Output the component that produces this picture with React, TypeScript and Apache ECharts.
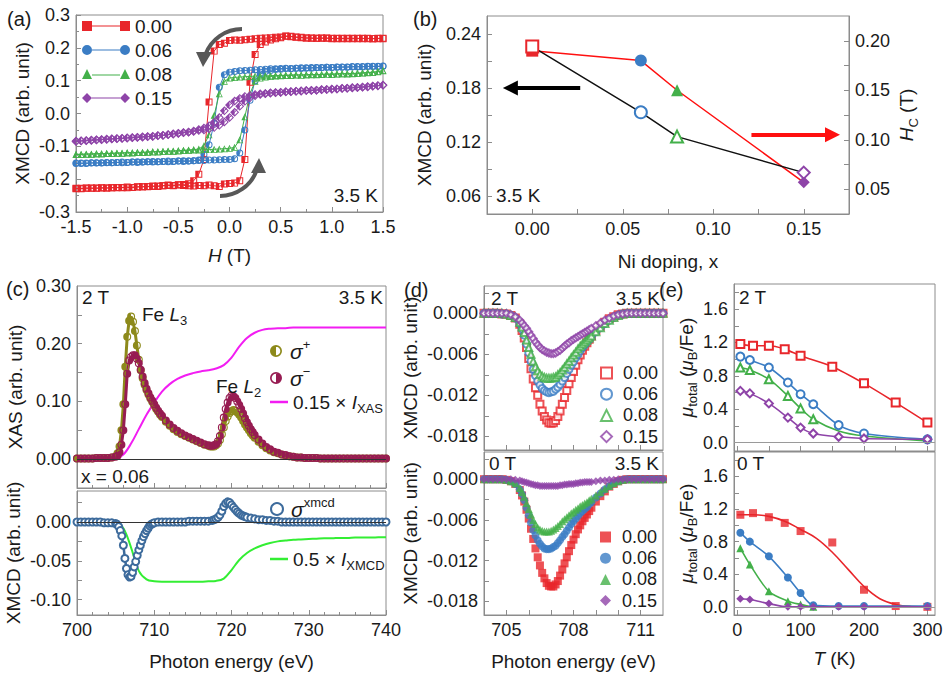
import React, { useEffect, useRef } from 'react';
import * as echarts from 'echarts';

// ---------- panel (a): hysteresis loops, XMCD vs H ----------
const H_FIELD = [-1.5,-1.45,-1.4,-1.35,-1.3,-1.25,-1.2,-1.15,-1.1,-1.05,-1,-0.95,-0.9,-0.85,-0.8,-0.75,-0.7,-0.65,-0.6,-0.55,-0.5,-0.45,-0.4,-0.35,-0.3,-0.25,-0.2,-0.15,-0.1,-0.05,0,0.05,0.1,0.15,0.2,0.25,0.3,0.35,0.4,0.45,0.5,0.55,0.6,0.65,0.7,0.75,0.8,0.85,0.9,0.95,1,1.05,1.1,1.15,1.2,1.25,1.3,1.35,1.4,1.45,1.5];
const A_RED_DOWN = [-0.228,-0.229,-0.227,-0.228,-0.227,-0.226,-0.227,-0.226,-0.226,-0.225,
  -0.226,-0.225,-0.224,-0.222,-0.223,-0.222,-0.221,-0.22,-0.218,-0.219,
  -0.217,-0.216,-0.214,-0.205,-0.185,-0.14,0.035,0.19,0.21,0.214,
  0.222,0.224,0.223,0.225,0.226,0.228,0.229,0.23,0.231,0.232,
  0.233,0.235,0.234,0.232,0.231,0.23,0.229,0.229,0.23,0.229,
  0.228,0.229,0.228,0.229,0.228,0.228,0.229,0.228,0.228,0.229,0.228];
const A_RED_UP = [-0.229,-0.228,-0.228,-0.227,-0.228,-0.227,-0.227,-0.226,-0.225,-0.226,
  -0.224,-0.225,-0.223,-0.224,-0.222,-0.221,-0.222,-0.22,-0.219,-0.22,
  -0.218,-0.219,-0.22,-0.221,-0.219,-0.22,-0.218,-0.22,-0.222,-0.215,
  -0.213,-0.212,-0.205,-0.14,0.095,0.18,0.21,0.218,0.224,0.228,
  0.231,0.236,0.235,0.233,0.232,0.23,0.23,0.229,0.229,0.23,
  0.229,0.228,0.229,0.228,0.229,0.229,0.228,0.229,0.228,0.228,0.229];
const A_BLUE_DOWN = [-0.152,-0.151,-0.152,-0.151,-0.15,-0.151,-0.15,-0.15,-0.149,-0.15,
  -0.149,-0.148,-0.149,-0.148,-0.147,-0.148,-0.147,-0.146,-0.147,-0.146,
  -0.145,-0.146,-0.145,-0.144,-0.142,-0.125,-0.095,-0.03,0.08,0.118,
  0.126,0.128,0.13,0.131,0.132,0.133,0.134,0.135,0.136,0.136,
  0.137,0.138,0.137,0.138,0.139,0.138,0.14,0.139,0.14,0.141,
  0.14,0.141,0.142,0.141,0.142,0.143,0.142,0.143,0.144,0.143,0.144];
const A_BLUE_UP = [-0.151,-0.152,-0.151,-0.15,-0.151,-0.15,-0.149,-0.15,-0.149,-0.148,
  -0.149,-0.148,-0.147,-0.148,-0.147,-0.146,-0.147,-0.146,-0.145,-0.146,
  -0.145,-0.144,-0.145,-0.144,-0.143,-0.143,-0.142,-0.142,-0.141,-0.14,
  -0.14,-0.138,-0.12,-0.05,0.04,0.1,0.12,0.128,0.131,0.134,
  0.135,0.137,0.136,0.138,0.137,0.139,0.138,0.14,0.139,0.141,
  0.14,0.142,0.141,0.142,0.143,0.142,0.143,0.144,0.143,0.144,0.145];
const A_GREEN_DOWN = [-0.125,-0.124,-0.124,-0.123,-0.122,-0.123,-0.121,-0.122,-0.12,-0.121,
  -0.119,-0.12,-0.118,-0.119,-0.117,-0.116,-0.117,-0.115,-0.114,-0.115,
  -0.113,-0.112,-0.111,-0.11,-0.108,-0.098,-0.065,-0.005,0.06,0.098,
  0.108,0.11,0.111,0.112,0.113,0.114,0.114,0.115,0.115,0.116,
  0.116,0.117,0.117,0.118,0.117,0.118,0.119,0.118,0.119,0.12,
  0.119,0.12,0.121,0.12,0.121,0.122,0.123,0.124,0.125,0.127,0.13];
const A_GREEN_UP = [-0.124,-0.125,-0.123,-0.124,-0.123,-0.122,-0.122,-0.121,-0.121,-0.12,
  -0.12,-0.119,-0.119,-0.118,-0.118,-0.117,-0.116,-0.116,-0.115,-0.114,
  -0.114,-0.113,-0.112,-0.111,-0.111,-0.11,-0.11,-0.109,-0.108,-0.107,
  -0.106,-0.103,-0.08,-0.01,0.06,0.098,0.108,0.111,0.113,0.114,
  0.115,0.116,0.116,0.117,0.117,0.118,0.118,0.119,0.119,0.12,
  0.12,0.121,0.121,0.122,0.122,0.123,0.124,0.125,0.126,0.128,0.131];
const A_PURPLE_DOWN = [-0.085,-0.083,-0.083,-0.081,-0.081,-0.079,-0.079,-0.077,-0.077,-0.075,
  -0.075,-0.073,-0.073,-0.071,-0.071,-0.069,-0.068,-0.066,-0.065,-0.062,
  -0.061,-0.058,-0.056,-0.053,-0.049,-0.044,-0.037,-0.027,-0.012,0.008,
  0.026,0.038,0.046,0.052,0.055,0.058,0.06,0.061,0.063,0.064,
  0.065,0.066,0.067,0.068,0.069,0.07,0.07,0.071,0.072,0.073,
  0.074,0.075,0.076,0.077,0.078,0.079,0.08,0.081,0.083,0.084,0.086];
const A_PURPLE_UP = [-0.084,-0.084,-0.082,-0.082,-0.08,-0.08,-0.078,-0.078,-0.076,-0.076,
  -0.074,-0.074,-0.072,-0.072,-0.07,-0.07,-0.067,-0.067,-0.064,-0.063,
  -0.06,-0.059,-0.057,-0.055,-0.052,-0.05,-0.047,-0.043,-0.036,-0.026,
  -0.012,0.004,0.022,0.037,0.048,0.054,0.058,0.06,0.062,0.063,
  0.064,0.066,0.066,0.068,0.068,0.07,0.071,0.071,0.073,0.073,
  0.075,0.075,0.077,0.077,0.079,0.079,0.081,0.082,0.084,0.085,0.087];

// ---------- panel (b): saturation XMCD and coercive field vs Ni doping ----------
const NI_DOPING = [0, 0.06, 0.08, 0.15];
const XMCD_SAT = [0.226, 0.153, 0.126, 0.086];
const H_COERCIVE = [0.19, 0.18, 0.15, 0.057];

// ---------- panel (c): XAS and XMCD spectra, x = 0.06 ----------
const E_XAS = [700,700.5,701,701.5,702,702.5,703,703.5,704,704.5,
  705,705.25,705.5,705.75,706,706.25,706.5,706.75,707,707.25,707.5,707.75,708,708.25,708.5,708.75,709,709.25,709.5,709.75,710,710.25,710.5,710.75,711,
  711.5,712,712.5,713,713.5,714,714.5,715,715.5,716,716.5,717,
  717.25,717.5,717.75,718,718.25,718.5,718.75,719,719.25,719.5,719.75,720,720.25,720.5,720.75,721,721.25,721.5,721.75,722,722.25,722.5,722.75,723,
  723.5,724,724.5,725,725.5,726,726.5,727,727.5,728,728.5,729,729.5,
  730,730.5,731,731.5,732,732.5,733,733.5,734,734.5,735,735.5,736,736.5,737,737.5,738,738.5,739,739.5,740];
const XAS_PLUS = [0.001,0.001,0.001,0.001,0.001,0.002,0.002,0.002,0.002,0.003,
  0.005,0.01,0.022,0.05,0.095,0.16,0.212,0.24,0.247,0.238,0.222,0.197,0.172,0.154,0.14,0.129,0.12,0.112,0.105,0.099,0.093,0.087,0.082,0.077,0.073,
  0.065,0.058,0.052,0.047,0.043,0.04,0.037,0.034,0.031,0.028,0.025,0.023,
  0.022,0.022,0.022,0.024,0.027,0.033,0.043,0.055,0.066,0.074,0.08,0.083,0.085,0.084,0.081,0.077,0.072,0.066,0.06,0.055,0.05,0.045,0.041,0.037,
  0.03,0.024,0.019,0.015,0.012,0.01,0.008,0.006,0.005,0.004,0.003,0.003,0.002,
  0.002,0.002,0.002,0.001,0.001,0.001,0.001,0.001,0.001,0.001,0.001,0.001,0.001,0.001,0.001,0.001,0.001,0.001,0.001,0.001,0.001];
const XAS_MINUS = [0.001,0.001,0.001,0.001,0.001,0.002,0.002,0.002,0.002,0.003,
  0.004,0.006,0.012,0.025,0.05,0.095,0.148,0.171,0.177,0.18,0.18,0.174,0.166,0.155,0.143,0.132,0.122,0.114,0.107,0.101,0.095,0.089,0.084,0.079,0.075,
  0.067,0.06,0.054,0.049,0.045,0.041,0.038,0.035,0.032,0.029,0.026,0.024,
  0.023,0.023,0.024,0.026,0.031,0.04,0.055,0.072,0.087,0.098,0.106,0.11,0.109,0.106,0.1,0.094,0.087,0.079,0.071,0.064,0.058,0.052,0.047,0.042,
  0.034,0.027,0.021,0.017,0.013,0.011,0.008,0.007,0.005,0.004,0.003,0.003,0.002,
  0.002,0.002,0.002,0.001,0.001,0.001,0.001,0.001,0.001,0.001,0.001,0.001,0.001,0.001,0.001,0.001,0.001,0.001,0.001,0.001,0.001];
const E_INT = [700,701,702,703,704,705,706,707,708,709,710,711,712,713,714,715,716,717,718,719,720,721,722,723,724,725,726,727,728,729,730,731,732,733,734,735,736,737,738,739,740];
const I_XAS = [0,0,0,0,0,0.001,0.008,0.027,0.052,0.077,
  0.098,0.117,0.13,0.139,0.145,0.149,0.152,0.154,0.157,0.163,
  0.176,0.195,0.21,0.219,0.224,0.226,0.227,0.227,0.228,0.228,
  0.228,0.228,0.228,0.228,0.228,0.228,0.228,0.228,0.228,0.228,0.228];
const I_XMCD = [0,0,0,0,0,-0.001,-0.008,-0.033,-0.063,-0.074,
  -0.0765,-0.077,-0.077,-0.077,-0.077,-0.077,-0.077,-0.0765,-0.076,-0.073,
  -0.062,-0.049,-0.04,-0.034,-0.03,-0.027,-0.025,-0.024,-0.023,-0.0225,
  -0.022,-0.0215,-0.021,-0.021,-0.0205,-0.0205,-0.02,-0.02,-0.02,-0.0198,-0.0197];
const E_XMCD = [700,700.5,701,701.5,702,702.5,703,703.5,704,704.5,
  705,705.2,705.4,705.6,705.8,706,706.2,706.4,706.6,706.8,
  707,707.2,707.4,707.6,707.8,708,708.2,708.4,708.6,708.8,
  709,709.2,709.4,709.6,709.8,710,710.5,711,711.5,712,
  712.5,713,713.5,714,714.5,715,715.5,716,716.5,717,
  717.5,717.75,718,718.25,718.5,718.75,719,719.25,719.5,719.75,
  720,720.25,720.5,720.75,721,721.25,721.5,721.75,722,722.5,
  723,723.5,724,724.5,725,725.5,726,726.5,727,727.5,
  728,728.5,729,729.5,730,730.5,731,731.5,732,732.5,
  733,733.5,734,734.5,735,735.5,736,736.5,737,737.5,
  738,738.5,739,739.5,740];
const XMCD_SIGNAL = [0,0,0,0,0,0,0,-0.001,-0.001,-0.001,
  -0.002,-0.003,-0.006,-0.011,-0.018,-0.03,-0.047,-0.06,-0.068,-0.071,
  -0.07,-0.065,-0.058,-0.051,-0.043,-0.036,-0.03,-0.024,-0.019,-0.015,
  -0.011,-0.008,-0.005,-0.003,-0.002,-0.001,0,0,0,0,
  0,0,0,0,0.001,0.001,0.001,0.001,0.001,0.001,
  0.002,0.003,0.004,0.006,0.009,0.014,0.02,0.024,0.026,0.025,
  0.022,0.019,0.016,0.013,0.011,0.009,0.008,0.007,0.006,0.005,
  0.004,0.003,0.003,0.002,0.002,0.001,0.001,0,0,0,
  0,0,0,0,0,0,0,0,0,0,
  0,0,0,0,0,0,0,0,0,0,
  0,0,0,0,0];

// ---------- panel (d): Fe L3 XMCD for each doping at 2 T and 0 T ----------
const E_L3 = [704,704.2,704.4,704.6,704.8,705,705.2,705.4,
  705.6,705.7,705.8,705.9,706,706.1,706.2,706.3,706.4,706.5,706.6,706.7,706.8,706.9,707,707.1,707.2,707.3,707.4,707.5,707.6,707.7,707.8,707.9,708,708.1,708.2,708.3,708.4,708.5,708.6,708.7,708.8,
  709,709.2,709.4,709.6,709.8,710,710.2,710.4,710.6,710.8,711,711.2,711.4,711.6,711.8,712];
const D2T_000 = [0,0,0,0,-0.0001,-0.0001,-0.0003,-0.0007,
  -0.0016,-0.0025,-0.0036,-0.005,-0.0066,-0.0081,-0.0096,-0.0109,-0.012,-0.0133,-0.0143,-0.0151,-0.0156,-0.016,-0.0161,-0.016,-0.0157,-0.0151,-0.0143,-0.0133,-0.0123,-0.0113,-0.0103,-0.0094,-0.0085,-0.0076,-0.0068,-0.0061,-0.0054,-0.0048,-0.0043,-0.0038,-0.0033,
  -0.0025,-0.0019,-0.0013,-0.0008,-0.0005,-0.0002,-0.0001,0,0,0,0,0,0,0,0,0];
const D2T_006 = [0,0,0,0,-0.0001,-0.0001,-0.0003,-0.0007,
  -0.0015,-0.0023,-0.0032,-0.0045,-0.0058,-0.007,-0.0082,-0.0091,-0.0099,-0.0105,-0.011,-0.0113,-0.0115,-0.0116,-0.0115,-0.0114,-0.0111,-0.0108,-0.0104,-0.0099,-0.0094,-0.0088,-0.0082,-0.0076,-0.0071,-0.0065,-0.006,-0.0055,-0.005,-0.0046,-0.0042,-0.0038,-0.0034,
  -0.0027,-0.0021,-0.0015,-0.001,-0.0006,-0.0003,-0.0001,0,0,0,0,0,0,0,0,0];
const D2T_008 = [0,0,0,0,0,-0.0001,-0.0003,-0.0006,
  -0.0013,-0.002,-0.0028,-0.0039,-0.005,-0.006,-0.007,-0.0078,-0.0084,-0.0089,-0.0092,-0.0094,-0.0095,-0.0095,-0.0095,-0.0094,-0.0093,-0.009,-0.0087,-0.0083,-0.0079,-0.0074,-0.007,-0.0065,-0.0061,-0.0057,-0.0052,-0.0048,-0.0045,-0.0042,-0.0039,-0.0036,-0.0033,
  -0.0027,-0.0021,-0.0015,-0.001,-0.0006,-0.0003,-0.0001,0,0,0,0,0,0,0,0,0];
const D2T_015 = [0,0,0,0,0,0,-0.0002,-0.0005,
  -0.001,-0.0014,-0.0018,-0.0022,-0.0027,-0.0032,-0.0037,-0.0042,-0.0046,-0.005,-0.0053,-0.0055,-0.0057,-0.0058,-0.0059,-0.0059,-0.0058,-0.0056,-0.0054,-0.0051,-0.0048,-0.0045,-0.0043,-0.004,-0.0038,-0.0036,-0.0034,-0.0032,-0.003,-0.0028,-0.0026,-0.0024,-0.0022,
  -0.0018,-0.0014,-0.001,-0.0007,-0.0004,-0.0002,-0.0001,0,0,0,0,0,0,0,0,0];
const D0T_000 = [0,0,0,0,0,-0.0001,-0.0003,-0.0007,
  -0.0016,-0.0024,-0.0033,-0.0045,-0.0058,-0.0073,-0.0088,-0.0102,-0.0115,-0.0127,-0.0138,-0.0146,-0.0153,-0.0157,-0.0158,-0.0158,-0.0155,-0.015,-0.0142,-0.0133,-0.0124,-0.0115,-0.0106,-0.0097,-0.0089,-0.0081,-0.0074,-0.0068,-0.0062,-0.0057,-0.0052,-0.0047,-0.0042,
  -0.0033,-0.0025,-0.0018,-0.0011,-0.0007,-0.0003,-0.0001,0,0,0,0,0,0,0,0,0];
const D0T_006 = [0,0,0,0,0,-0.0001,-0.0003,-0.0007,
  -0.0015,-0.0022,-0.0031,-0.0042,-0.0053,-0.0064,-0.0075,-0.0083,-0.009,-0.0095,-0.0099,-0.0102,-0.0103,-0.0103,-0.0102,-0.01,-0.0098,-0.0094,-0.009,-0.0085,-0.0081,-0.0076,-0.0071,-0.0066,-0.0062,-0.0058,-0.0054,-0.005,-0.0047,-0.0044,-0.0041,-0.0037,-0.0034,
  -0.0027,-0.0021,-0.0015,-0.001,-0.0006,-0.0003,-0.0001,0,0,0,0,0,0,0,0,0];
const D0T_008 = [0,0,0,0,0,-0.0001,-0.0003,-0.0006,
  -0.0013,-0.0019,-0.0026,-0.0035,-0.0044,-0.0052,-0.006,-0.0066,-0.0071,-0.0074,-0.0076,-0.0077,-0.0077,-0.0077,-0.0076,-0.0074,-0.0072,-0.0069,-0.0066,-0.0062,-0.0059,-0.0056,-0.0053,-0.005,-0.0048,-0.0045,-0.0043,-0.004,-0.0038,-0.0036,-0.0034,-0.0031,-0.0029,
  -0.0024,-0.0019,-0.0014,-0.001,-0.0006,-0.0003,-0.0001,0,0,0,0,0,0,0,0,0];
const D0T_015 = [0,0,0,0,0,0,0,-0.0001,
  -0.0002,-0.0003,-0.0004,-0.0005,-0.0006,-0.0007,-0.0008,-0.0009,-0.0009,-0.001,-0.001,-0.001,-0.001,-0.001,-0.001,-0.001,-0.001,-0.001,-0.0009,-0.0009,-0.0008,-0.0008,-0.0007,-0.0007,-0.0007,-0.0006,-0.0006,-0.0005,-0.0005,-0.0004,-0.0004,-0.0004,-0.0004,
  -0.0003,-0.0002,-0.0002,-0.0001,-0.0001,0,0,0,0,0,0,0,0,0,0,0];

// ---------- panel (e): total moment vs temperature ----------
const T_RED = [5, 25, 50, 75, 100, 150, 200, 250, 300];
const T_REST = [5, 20, 50, 80, 100, 120, 160, 200, 300];
const MU2T_000 = [1.18, 1.16, 1.16, 1.12, 1.04, 0.91, 0.71, 0.48, 0.24];
const MU2T_006 = [1.03, 0.99, 0.9, 0.72, 0.58, 0.46, 0.21, 0.11, 0.04];
const MU2T_008 = [0.9, 0.87, 0.76, 0.56, 0.41, 0.28, 0.14, 0.08, 0.02];
const MU2T_015 = [0.62, 0.59, 0.47, 0.3, 0.18, 0.11, 0.07, 0.05, 0.04];
const MU0T_000 = [1.13, 1.15, 1.1, 1.03, 0.93, 0.79, 0.21, 0.01, 0.0];
const T_FIT = [0, 25, 50, 75, 100, 125, 150, 175, 200, 225, 250, 275, 300];
const MU0T_000_FIT = [1.13, 1.13, 1.11, 1.05, 0.95, 0.84, 0.67, 0.46, 0.25, 0.1, 0.03, 0.005, 0.0];
const MU0T_006 = [0.91, 0.8, 0.62, 0.36, 0.17, 0.02, 0.01, 0.01, 0.01];
const MU0T_008 = [0.72, 0.52, 0.19, 0.07, 0.03, 0.0, 0.0, 0.0, 0.0];
const MU0T_015 = [0.1, 0.09, 0.04, 0.0, 0.0, 0.0, 0.0, 0.0, 0.0];

// ---------- tick positions ----------
const B_X_TICKS = [-0.025, 0, 0.025, 0.05, 0.075, 0.1, 0.125, 0.15, 0.175];
const B_X_LABELS = [0, 0.05, 0.1, 0.15];
const B_YL_TICKS = [0.06, 0.09, 0.12, 0.15, 0.18, 0.21, 0.24];
const B_YL_LABELS = [0.06, 0.12, 0.18, 0.24];
const B_YR_TICKS = [0.05, 0.075, 0.1, 0.125, 0.15, 0.175, 0.2];
const B_YR_LABELS = [0.05, 0.1, 0.15, 0.2];
const C_XAS_TICKS = [0, 0.05, 0.1, 0.15, 0.2, 0.25];
const C_XAS_LABELS = [0, 0.1, 0.2, 0.3];
const C_XMCD_TICKS = [-0.1, -0.075, -0.05, -0.025, 0, 0.025];
const C_XMCD_LABELS = [-0.1, -0.05, 0];
const D_X_TICKS = [705, 706, 707, 708, 709, 710, 711];
const D_X_LABELS = [705, 708, 711];
const D_Y_TICKS = [-0.018, -0.015, -0.012, -0.009, -0.006, -0.003, 0, 0.003];
const D_Y_LABELS = [-0.018, -0.012, -0.006, 0];
const E_X_TICKS = [0, 50, 100, 150, 200, 250, 300];
const E_X_LABELS = [0, 100, 200, 300];
const E_Y_TICKS = [0, 0.2, 0.4, 0.6, 0.8, 1.0, 1.2, 1.4, 1.6, 1.8];
const E_Y_LABELS = [0, 0.4, 0.8, 1.2, 1.6];

// ---------- styling ----------
const FONT = '"Liberation Sans", Arial, Helvetica, sans-serif';
const INK = '#1a1a1a';
const FRAME = '#8c8c8c';
const RED = '#e8262b';
const BLUE = '#3b7dc4';
const GREEN = '#43b04a';
const PURPLE = '#8e44a8';
const OLIVE = '#8d8a1b';
const MAROON = '#971c52';
const MAGENTA = '#f21df2';
const LIME = '#33ee33';
const STEEL = '#3d6b9c';
const ARROW_GREY = '#585858';

// half-filled marker outlines (one half solid, ring around)
const HALF_SQ = 'path://M0,0L50,0L50,100L0,100Z M0,0L100,0L100,100L0,100Z M14,14L14,86L86,86L86,14Z';
const HALF_CIRC_L = 'path://M50,100A50,50 0 0 1 50,0Z M50,0A50,50 0 1 1 50,100A50,50 0 1 1 50,0Z M50,14A36,36 0 1 0 50,86A36,36 0 1 0 50,14Z';
const HALF_CIRC_R = 'path://M50,0A50,50 0 0 1 50,100Z M50,0A50,50 0 1 1 50,100A50,50 0 1 1 50,0Z M50,14A36,36 0 1 0 50,86A36,36 0 1 0 50,14Z';
const HALF_TRI = 'path://M50,0L50,100L0,100Z M50,0L100,100L0,100Z M50,24L16,90L84,90Z';
const HALF_DIA = 'path://M50,0L50,100L0,50Z M50,0L100,50L50,100L0,50Z M50,16L16,50L50,84L84,50Z';

// legend keys of panel (a): marker, connecting line, marker
const KEY_SQ = 'path://M0,0L10,0L10,10L0,10Z M10,4.4L38,4.4L38,5.6L10,5.6Z M38,0L48,0L48,10L38,10Z';
const KEY_CIRC = 'path://M0,5A5,5 0 1 1 10,5A5,5 0 1 1 0,5Z M10,4.4L38,4.4L38,5.6L10,5.6Z M38,5A5,5 0 1 1 48,5A5,5 0 1 1 38,5Z';
const KEY_TRI = 'path://M5,0L10,10L0,10Z M10,5.4L38,5.4L38,6.6L10,6.6Z M43,0L48,10L38,10Z';
const KEY_DIA = 'path://M5,0L10,5L5,10L0,5Z M10,4.4L38,4.4L38,5.6L10,5.6Z M43,0L48,5L43,10L38,5Z';

const RICH: any = {
  i: { fontStyle: 'italic', fontSize: 19, fontFamily: FONT, color: INK, lineHeight: 26 },
  s: { fontStyle: 'italic', fontSize: 21, fontFamily: FONT, color: INK, lineHeight: 26 },
  sup: { fontSize: 13, fontFamily: FONT, color: INK, verticalAlign: 'top', lineHeight: 13 },
  sub: { fontSize: 13, fontFamily: FONT, color: INK, verticalAlign: 'bottom', lineHeight: 13 },
};

const pts = (xs: number[], ys: number[]) => xs.map((x, i) => [x, ys[i]]);
const afterSlash = (n: string) => n.split('|')[1];

type AxisCfg = {
  grid: number; min: number; max: number; digits: number;
  interval?: number; minor?: number; ticks?: number[]; labels?: number[];
  showLabels?: boolean; name?: string; nameGap?: number; position?: string;
};

function valueAxis(c: AxisCfg): any {
  const fmt = (v: number) => (Math.abs(v) < 1e-9 ? 0 : v).toFixed(c.digits);
  const ax: any = {
    type: 'value', gridIndex: c.grid, min: c.min, max: c.max,
    axisLine: { show: true, onZero: false, lineStyle: { color: FRAME, width: 1 } },
    axisTick: { show: true, inside: true, length: 5, lineStyle: { color: FRAME, width: 1 } },
    minorTick: c.minor ? { show: true, splitNumber: c.minor, length: 3, lineStyle: { color: FRAME, width: 1 } } : { show: false },
    axisLabel: { show: c.showLabels !== false, color: INK, fontSize: 18, fontFamily: FONT, margin: 6, formatter: fmt },
    splitLine: { show: false },
    minorSplitLine: { show: false },
  };
  if (c.interval !== undefined) ax.interval = c.interval;
  if (c.ticks) ax.axisTick.customValues = c.ticks;
  if (c.labels) ax.axisLabel.customValues = c.labels;
  if (c.position) ax.position = c.position;
  if (c.name) {
    ax.name = c.name;
    ax.nameLocation = 'middle';
    ax.nameGap = c.nameGap;
    ax.nameTextStyle = { color: INK, fontSize: 19, fontFamily: FONT, lineHeight: 26, rich: RICH };
  }
  return ax;
}

const zeroLine = (color: string) => ({
  silent: true, symbol: ['none', 'none'], label: { show: false },
  lineStyle: { color, width: 1, type: 'solid' }, emphasis: { disabled: true },
  data: [{ yAxis: 0 }],
});

function buildOption(): any {
  const grids = [
    { left: 76, top: 15, width: 307, height: 197 },
    { left: 487, top: 16, width: 362, height: 198 },
    { left: 77, top: 286, width: 309, height: 202 },
    { left: 77, top: 491, width: 309, height: 124 },
    { left: 484, top: 286, width: 179, height: 164 },
    { left: 484, top: 452, width: 179, height: 163 },
    { left: 734, top: 284, width: 201, height: 167 },
    { left: 734, top: 452, width: 201, height: 163 },
  ].map((g) => ({ ...g, show: true, borderColor: FRAME, borderWidth: 1, outerBoundsMode: 'none', containLabel: false }));

  const xAxis = [
    valueAxis({ grid: 0, min: -1.5, max: 1.5, interval: 0.5, minor: 2, digits: 1, name: '{i|H} (T)', nameGap: 30 }),
    valueAxis({ grid: 1, min: -0.025, max: 0.175, ticks: B_X_TICKS, labels: B_X_LABELS, digits: 2, name: 'Ni doping, x', nameGap: 34 }),
    valueAxis({ grid: 2, min: 700, max: 740, interval: 10, minor: 5, digits: 0, showLabels: false }),
    valueAxis({ grid: 3, min: 700, max: 740, interval: 10, minor: 5, digits: 0, name: 'Photon energy (eV)', nameGap: 33 }),
    valueAxis({ grid: 4, min: 704, max: 712, ticks: D_X_TICKS, labels: D_X_LABELS, digits: 0, showLabels: false }),
    valueAxis({ grid: 5, min: 704, max: 712, ticks: D_X_TICKS, labels: D_X_LABELS, digits: 0, name: 'Photon energy (eV)', nameGap: 33 }),
    valueAxis({ grid: 6, min: -5, max: 312, ticks: E_X_TICKS, labels: E_X_LABELS, digits: 0, showLabels: false }),
    valueAxis({ grid: 7, min: -5, max: 312, ticks: E_X_TICKS, labels: E_X_LABELS, digits: 0, name: '{i|T} (K)', nameGap: 30 }),
  ];

  const muName = '{i|μ}{sub|total} ({i|μ}{sub|B}/Fe)';
  const yAxis = [
    valueAxis({ grid: 0, min: -0.3, max: 0.3, interval: 0.1, minor: 2, digits: 1, name: 'XMCD (arb. unit)', nameGap: 38 }),
    valueAxis({ grid: 1, min: 0.04, max: 0.26, ticks: B_YL_TICKS, labels: B_YL_LABELS, digits: 2, name: 'XMCD (arb. unit)', nameGap: 50 }),
    valueAxis({ grid: 1, min: 0.025, max: 0.225, ticks: B_YR_TICKS, labels: B_YR_LABELS, digits: 2, position: 'right', name: '{i|H}{sub|C} (T)', nameGap: 39 }),
    valueAxis({ grid: 2, min: -0.05, max: 0.3, ticks: C_XAS_TICKS, labels: C_XAS_LABELS, digits: 2, name: 'XAS (arb. unit)', nameGap: 49 }),
    valueAxis({ grid: 3, min: -0.12, max: 0.04, ticks: C_XMCD_TICKS, labels: C_XMCD_LABELS, digits: 2, name: 'XMCD (arb. unit)', nameGap: 49 }),
    valueAxis({ grid: 4, min: -0.02, max: 0.004, ticks: D_Y_TICKS, labels: D_Y_LABELS, digits: 3, name: 'XMCD (arb. unit)', nameGap: 58 }),
    valueAxis({ grid: 5, min: -0.02, max: 0.004, ticks: D_Y_TICKS, labels: D_Y_LABELS, digits: 3, name: 'XMCD (arb. unit)', nameGap: 58 }),
    valueAxis({ grid: 6, min: -0.1, max: 1.9, ticks: E_Y_TICKS, labels: E_Y_LABELS, digits: 1, name: muName, nameGap: 29 }),
    valueAxis({ grid: 7, min: -0.1, max: 1.9, ticks: E_Y_TICKS, labels: E_Y_LABELS, digits: 1, name: muName, nameGap: 29 }),
  ];

  const series: any[] = [];

  // (a) loops: descending and ascending branches share a legend entry
  const loops = [
    { key: '0.00', color: RED, sym: HALF_SQ, size: 7, branches: [A_RED_DOWN, A_RED_UP] },
    { key: '0.06', color: BLUE, sym: HALF_CIRC_L, size: 7, branches: [A_BLUE_DOWN, A_BLUE_UP] },
    { key: '0.08', color: GREEN, sym: HALF_TRI, size: 7, branches: [A_GREEN_DOWN, A_GREEN_UP] },
    { key: '0.15', color: PURPLE, sym: HALF_DIA, size: 9, branches: [A_PURPLE_DOWN, A_PURPLE_UP] },
  ];
  loops.forEach((l) => l.branches.forEach((ys) => series.push({
    type: 'line', name: 'a|' + l.key, xAxisIndex: 0, yAxisIndex: 0,
    data: pts(H_FIELD, ys), symbol: l.sym, symbolSize: l.size,
    lineStyle: { color: l.color, width: 1 }, itemStyle: { color: l.color },
  })));

  // (b) coercive field (right axis, filled) and saturation XMCD (left axis, open)
  const openSyms = ['emptyRect', 'emptyCircle', 'emptyTriangle', 'emptyDiamond'];
  const fullSyms = ['rect', 'circle', 'triangle', 'diamond'];
  const dopingColors = [RED, BLUE, GREEN, PURPLE];
  series.push({
    type: 'line', name: 'b|Hc', xAxisIndex: 1, yAxisIndex: 2, symbolSize: 12,
    lineStyle: { color: '#ff1010', width: 1.5 },
    data: NI_DOPING.map((x, i) => ({ value: [x, H_COERCIVE[i]], symbol: fullSyms[i], itemStyle: { color: dopingColors[i] } })),
    markLine: {
      silent: true, symbol: ['none', 'none'], symbolSize: [15, 15], label: { show: false },
      lineStyle: { color: '#ff1010', width: 4, type: 'solid' }, emphasis: { disabled: true },
      data: [[{ coord: [0.1211, 0.105], symbol: 'none' }, { coord: [0.1659, 0.105], symbol: 'triangle' }]],
    },
  });
  series.push({
    type: 'line', name: 'b|xmcd', xAxisIndex: 1, yAxisIndex: 1, symbolSize: 12,
    lineStyle: { color: '#111', width: 1.5 },
    data: NI_DOPING.map((x, i) => ({ value: [x, XMCD_SAT[i]], symbol: openSyms[i], itemStyle: { color: dopingColors[i], borderWidth: 1.6 } })),
    markLine: {
      silent: true, symbol: ['none', 'none'], symbolSize: [15, 15], label: { show: false },
      lineStyle: { color: '#000', width: 4, type: 'solid' }, emphasis: { disabled: true },
      data: [[{ coord: [-0.0121, 0.18], symbol: 'triangle' }, { coord: [0.0265, 0.18], symbol: 'none' }]],
    },
  });

  // (c) XAS for both helicities and the integrated XAS
  series.push({
    type: 'line', name: 'c|plus', xAxisIndex: 2, yAxisIndex: 3, data: pts(E_XAS, XAS_PLUS), symbol: HALF_CIRC_L, symbolSize: 8,
    lineStyle: { color: OLIVE, width: 3 }, itemStyle: { color: OLIVE },
  });
  series.push({
    type: 'line', name: 'c|minus', xAxisIndex: 2, yAxisIndex: 3, data: pts(E_XAS, XAS_MINUS), symbol: HALF_CIRC_R, symbolSize: 8,
    lineStyle: { color: MAROON, width: 3 }, itemStyle: { color: MAROON },
  });
  series.push({
    type: 'line', name: 'c|ixas', xAxisIndex: 2, yAxisIndex: 3, data: pts(E_INT, I_XAS), symbol: 'none', smooth: 0.35,
    lineStyle: { color: MAGENTA, width: 2 }, itemStyle: { color: MAGENTA }, markLine: zeroLine('#333'),
  });
  // (c) XMCD and its integral
  series.push({
    type: 'line', name: 'c|xmcd', xAxisIndex: 3, yAxisIndex: 4, data: pts(E_XMCD, XMCD_SIGNAL), symbol: 'emptyCircle', symbolSize: 7,
    lineStyle: { color: STEEL, width: 2.5 }, itemStyle: { color: STEEL, borderWidth: 1.2 }, markLine: zeroLine('#333'),
  });
  series.push({
    type: 'line', name: 'c|ixmcd', xAxisIndex: 3, yAxisIndex: 4, data: pts(E_INT, I_XMCD), symbol: 'none', smooth: 0.35,
    lineStyle: { color: LIME, width: 2 }, itemStyle: { color: LIME },
  });

  // (d) L3 XMCD spectra
  const dKeys = ['0.00', '0.06', '0.08', '0.15'];
  [D2T_000, D2T_006, D2T_008, D2T_015].forEach((ys, i) => series.push({
    type: 'scatter', name: 'd1|' + dKeys[i], xAxisIndex: 4, yAxisIndex: 5, data: pts(E_L3, ys),
    symbol: openSyms[i], symbolSize: 7, itemStyle: { color: dopingColors[i], borderWidth: 1.2 },
  }));
  [D0T_000, D0T_006, D0T_008, D0T_015].forEach((ys, i) => series.push({
    type: 'scatter', name: 'd2|' + dKeys[i], xAxisIndex: 5, yAxisIndex: 6, data: pts(E_L3, ys),
    symbol: fullSyms[i], symbolSize: 8, itemStyle: { color: dopingColors[i] },
  }));

  // (e) moment vs temperature
  const eLine = (name: string, xi: number, xs: number[], ys: number[], sym: string, color: string, markCount?: number): any => ({
    type: 'line', name, xAxisIndex: xi, yAxisIndex: xi + 1, smooth: 0.3, symbolSize: 8,
    symbol: sym, lineStyle: { color, width: 1.6 }, itemStyle: { color, borderWidth: 1.2 },
    data: xs.map((x, k) => (markCount !== undefined && k >= markCount ? { value: [x, ys[k]], symbol: 'none' } : [x, ys[k]])),
    markLine: name.endsWith('0.00') ? zeroLine('#9a9a9a') : undefined,
  });
  series.push(eLine('e1|0.00', 6, T_RED, MU2T_000, 'emptyRect', RED));
  series.push(eLine('e1|0.06', 6, T_REST, MU2T_006, 'emptyCircle', BLUE));
  series.push(eLine('e1|0.08', 6, T_REST, MU2T_008, 'emptyTriangle', GREEN, 6));
  series.push(eLine('e1|0.15', 6, T_REST, MU2T_015, 'emptyDiamond', PURPLE));
  series.push({
    type: 'line', name: 'e2|fit', xAxisIndex: 7, yAxisIndex: 8, smooth: 0.4, symbol: 'none',
    data: pts(T_FIT, MU0T_000_FIT), lineStyle: { color: RED, width: 1.6 }, markLine: zeroLine('#9a9a9a'),
  });
  series.push({ type: 'scatter', name: 'e2|0.00', xAxisIndex: 7, yAxisIndex: 8, data: pts(T_RED, MU0T_000), symbol: 'rect', symbolSize: 8, itemStyle: { color: RED } });
  series.push(eLine('e2|0.06', 7, T_REST, MU0T_006, 'circle', BLUE));
  series.push(eLine('e2|0.08', 7, T_REST, MU0T_008, 'triangle', GREEN, 6));
  series.push(eLine('e2|0.15', 7, T_REST, MU0T_015, 'diamond', PURPLE));

  const baseLegend = { orient: 'vertical', padding: 0, selectedMode: false };
  const dLegendText = { fontSize: 18, fontFamily: FONT, color: INK, lineHeight: 18, padding: [0, 0, 0, 6] };
  const legend = [
    {
      ...baseLegend,
      data: [
        { name: 'a|0.00', icon: KEY_SQ }, { name: 'a|0.06', icon: KEY_CIRC },
        { name: 'a|0.08', icon: KEY_TRI }, { name: 'a|0.15', icon: KEY_DIA },
      ],
      left: 82, top: 16, itemWidth: 48, itemHeight: 10, itemGap: 4, formatter: afterSlash,
      textStyle: { fontSize: 19, fontFamily: FONT, color: INK, lineHeight: 20 },
    },
    {
      ...baseLegend, data: ['d1|0.00', 'd1|0.06', 'd1|0.08', 'd1|0.15'], left: 600, top: 364,
      itemWidth: 11, itemHeight: 11, itemGap: 3.2, formatter: afterSlash, textStyle: dLegendText,
    },
    {
      ...baseLegend, data: ['d2|0.00', 'd2|0.06', 'd2|0.08', 'd2|0.15'], left: 600, top: 528,
      itemWidth: 11, itemHeight: 11, itemGap: 3.2, formatter: afterSlash, textStyle: dLegendText,
    },
    ...[
      { name: 'c|plus', icon: HALF_CIRC_L, top: 338, h: 12, text: '{s|σ}{sup|+}' },
      { name: 'c|minus', icon: HALF_CIRC_R, top: 365, h: 12, text: '{s|σ}{sup|−}' },
      { name: 'c|ixas', icon: 'rect', top: 389, h: 2.5, text: '0.15 × {i|I}{sub|XAS}' },
      { name: 'c|xmcd', icon: 'emptyCircle', top: 496, h: 12, text: '{s|σ}{sup|xmcd}' },
      { name: 'c|ixmcd', icon: 'rect', top: 546, h: 2.5, text: '0.5 × {i|I}{sub|XMCD}' },
    ].map((it) => ({
      ...baseLegend, left: 270, top: it.top, itemWidth: 18, itemHeight: it.h,
      data: [{ name: it.name, icon: it.icon }],
      formatter: () => it.text,
      textStyle: { fontSize: 19, fontFamily: FONT, color: INK, lineHeight: 26, rich: RICH },
    })),
  ];

  const txt = (x: number, y: number, text: string, align = 'left', size = 19): any => ({
    type: 'text', x, y, z: 50,
    style: { text, fontSize: size, fontFamily: FONT, fill: INK, align, verticalAlign: 'middle' },
  });
  const feLabel = (x: number, y: number, edge: string): any => ({
    type: 'text', x, y, z: 50,
    style: {
      text: 'Fe {i|L}{sub|' + edge + '}', fontSize: 19, fontFamily: FONT, fill: INK, align: 'left', verticalAlign: 'middle', lineHeight: 26,
      rich: {
        i: { fontStyle: 'italic', fontSize: 19, fontFamily: FONT, fill: INK, lineHeight: 26 },
        sub: { fontSize: 13, fontFamily: FONT, fill: INK, verticalAlign: 'bottom', lineHeight: 13 },
      },
    },
  });

  const graphic = [
    txt(7, 19, '(a)', 'left', 20), txt(413, 19, '(b)', 'left', 20), txt(6, 289, '(c)', 'left', 20),
    txt(404, 290, '(d)', 'left', 20), txt(659, 290, '(e)', 'left', 20),
    txt(378, 195, '3.5 K', 'right'), txt(496, 195, '3.5 K'),
    txt(82, 297, '2 T'), txt(383, 297, '3.5 K', 'right'), txt(81, 476, 'x = 0.06'),
    feLabel(142, 314, '3'), feLabel(216, 386, '2'),
    txt(491, 298, '2 T'), txt(660, 298, '3.5 K', 'right'),
    txt(489, 463, '0 T'), txt(659, 463, '3.5 K', 'right'),
    txt(739, 297, '2 T'), txt(737, 463, '0 T'),
    // sweep-direction arrows of panel (a)
    { type: 'arc', z: 40, shape: { cx: 242, cy: 68, r: 39, startAngle: Math.PI + 0.35, endAngle: Math.PI * 1.5, clockwise: true }, style: { stroke: ARROW_GREY, lineWidth: 4, fill: null } },
    { type: 'polygon', z: 40, shape: { points: [[196, 52], [212, 52], [203, 67]] }, style: { fill: ARROW_GREY } },
    { type: 'arc', z: 40, shape: { cx: 220, cy: 157, r: 39, startAngle: 0.35, endAngle: Math.PI * 0.5, clockwise: true }, style: { stroke: ARROW_GREY, lineWidth: 4, fill: null } },
    { type: 'polygon', z: 40, shape: { points: [[251, 173], [266, 173], [259, 158]] }, style: { fill: ARROW_GREY } },
  ];

  return {
    animation: false,
    backgroundColor: '#ffffff',
    textStyle: { fontFamily: FONT },
    grid: grids, xAxis, yAxis, series, legend, graphic,
  };
}

export default function App() {
  const ref = useRef<HTMLDivElement>(null);
  useEffect(() => {
    if (!ref.current) return;
    const chart = echarts.init(ref.current, null, { renderer: 'svg' });
    chart.setOption(buildOption());
    return () => chart.dispose();
  }, []);
  return (
    <div
      ref={ref}
      style={{ position: 'absolute', left: 0, top: 0, width: 951, height: 678, background: '#fff' }}
    />
  );
}
